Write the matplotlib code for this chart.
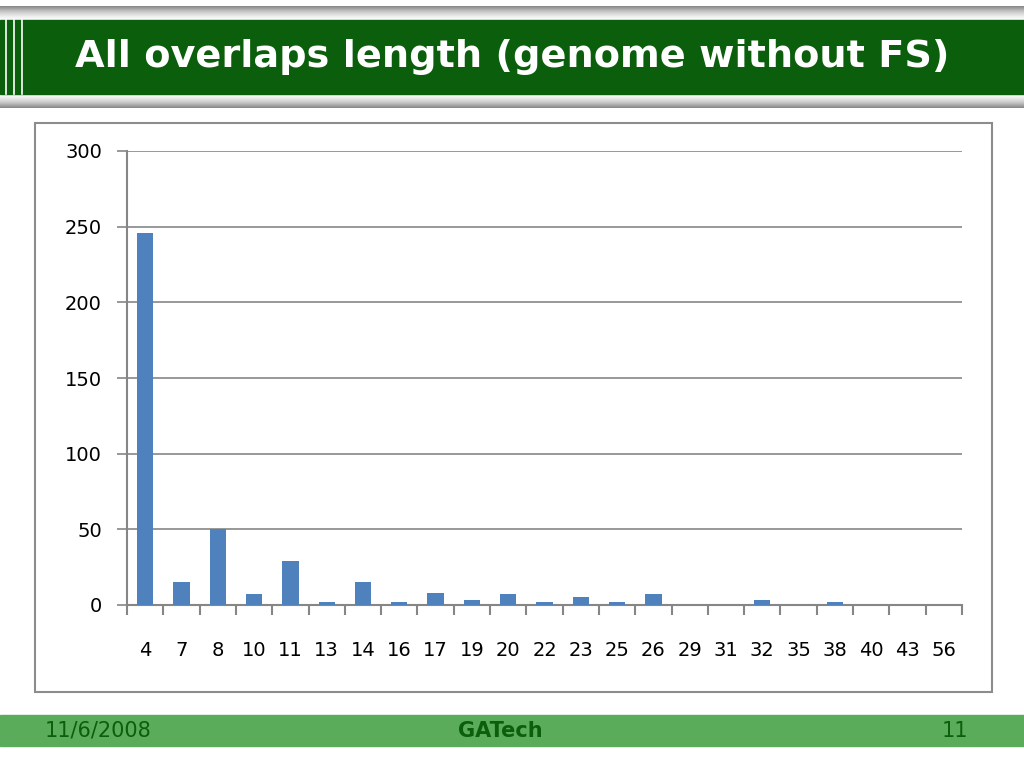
import matplotlib
matplotlib.use("Agg")
import matplotlib.pyplot as plt
import numpy as np

# overlap length -> count
lengths = ["4", "7", "8", "10", "11", "13", "14", "16", "17", "19", "20", "22",
           "23", "25", "26", "29", "31", "32", "35", "38", "40", "43", "56"]
counts = [246, 15, 50, 7, 29, 2, 15, 2, 8, 3, 7, 2,
          5.5, 2, 7, 0, 0, 3, 0, 2, 0, 0, 0]
yticks = [0, 50, 100, 150, 200, 250, 300]

title = "All overlaps length (genome without FS)"
footer_left = "11/6/2008"
footer_mid = "GATech"
footer_right = "11"

dark_green = "#0b5e0b"
light_green = "#5aab5a"
bar_color = "#4f81bd"
grid_color = "#868686"

fig = plt.figure(figsize=(10.24, 7.68), dpi=100)

# background layer in pixel coordinates
bg = fig.add_axes([0, 0, 1, 1])
bg.set_xlim(0, 1024)
bg.set_ylim(768, 0)
bg.axis("off")

# shadow above and below header band
grad = np.linspace(0, 1, 50).reshape(-1, 1)
bg.imshow(grad, extent=(0, 1024, 20, 6), cmap="Greys_r", vmin=-0.8, vmax=1.0,
          aspect="auto")
bg.imshow(grad, extent=(0, 1024, 94, 108), cmap="Greys_r", vmin=-0.8, vmax=1.0,
          aspect="auto")
bg.add_patch(plt.Rectangle((0, 20), 1024, 74, color=dark_green, zorder=2))
for x in [6, 14, 22]:
    bg.plot([x, x], [20, 94], color="white", lw=1.2, zorder=3)
bg.text(75, 57, title, color="white", fontsize=27.5, fontweight="bold",
        va="center", ha="left", zorder=4)

# chart frame
bg.add_patch(plt.Rectangle((35, 123), 957, 569, fill=False, ec="#8c8c8c", lw=1.5))

# footer band
bg.add_patch(plt.Rectangle((0, 715), 1024, 31, color=light_green))
bg.text(45, 731, footer_left, color=dark_green, fontsize=15, va="center", ha="left")
bg.text(500, 731, footer_mid, color=dark_green, fontsize=15, fontweight="bold",
        va="center", ha="center")
bg.text(968, 731, footer_right, color=dark_green, fontsize=15, va="center", ha="right")

# chart
ax = fig.add_axes([127 / 1024, 1 - 605 / 768, 835 / 1024, 454 / 768])
x = np.arange(len(lengths))
ax.bar(x, counts, width=0.45, color=bar_color, zorder=3)
ax.set_xlim(-0.5, len(lengths) - 0.5)
ax.set_ylim(0, 300)
ax.set_yticks(yticks)
ax.set_xticks(x)
ax.set_xticklabels(lengths)
ax.set_xticks(np.arange(len(lengths) + 1) - 0.5, minor=True)
ax.grid(axis="y", color=grid_color, lw=1.2, zorder=0)
for s in ["top", "right"]:
    ax.spines[s].set_visible(False)
for s in ["left", "bottom"]:
    ax.spines[s].set_color(grid_color)
    ax.spines[s].set_linewidth(1.5)
ax.tick_params(axis="x", which="major", length=0, pad=26, labelsize=14)
ax.tick_params(axis="x", which="minor", length=7, color=grid_color, width=1.5)
ax.tick_params(axis="y", length=7, color=grid_color, width=1.2, pad=11, labelsize=14)

fig.savefig("out.png", dpi=100)
